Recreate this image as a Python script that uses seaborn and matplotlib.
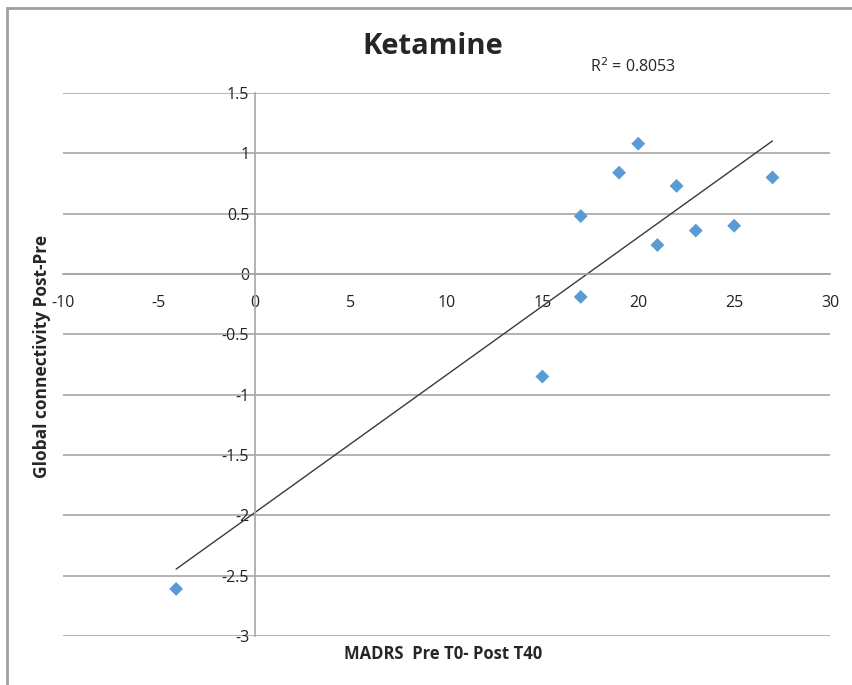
import numpy as np
import pandas as pd
import matplotlib
matplotlib.use("Agg")
import matplotlib.pyplot as plt
import seaborn as sns
from matplotlib.patches import Rectangle

# ======================================================
# DATA
# ======================================================

madrs_change = [-4.1, 15, 17, 17, 19, 20, 21, 22, 23, 25, 27]
connectivity_change = [-2.61, -0.85, -0.19, 0.48, 0.84, 1.08, 0.24, 0.73, 0.36, 0.40, 0.80]

x_ticks = [-10, -5, 0, 5, 10, 15, 20, 25, 30]
y_ticks = [-3, -2.5, -2, -1.5, -1, -0.5, 0, 0.5, 1, 1.5]
r2_text = "R$^2$ = 0.8053"

df = pd.DataFrame({"madrs": madrs_change, "conn": connectivity_change})

# ======================================================
# FIGURE
# ======================================================

sns.set_style("white")
plt.rcParams["font.family"] = ["Open Sans", "DejaVu Sans"]

fig = plt.figure(figsize=(8.53, 6.85), dpi=100)
ax = fig.add_axes([63 / 853, 49 / 685, 767 / 853, 543 / 685])

grid_color = "#a6a6a6"
for yv in y_ticks:
    ax.axhline(yv, color=grid_color, lw=1.2, zorder=0)

sns.regplot(
    data=df, x="madrs", y="conn", ax=ax, scatter=False, ci=None,
    line_kws={"color": "#3a3a3a", "lw": 1.0, "zorder": 2}
)

sns.scatterplot(
    data=df, x="madrs", y="conn", ax=ax, marker="D", s=50,
    color="#5b9bd5", edgecolor="none", zorder=3
)

ax.set_xlim(-10, 30)
ax.set_ylim(-3, 1.5)
ax.set_xticks(x_ticks)
ax.set_yticks(y_ticks)
ax.set_xticklabels([str(v) for v in x_ticks])
ax.set_yticklabels(["{:g}".format(v) for v in y_ticks])

for side in ["top", "right"]:
    ax.spines[side].set_visible(False)
ax.spines["left"].set_position(("data", 0))
ax.spines["bottom"].set_position(("data", 0))
ax.spines["left"].set_color(grid_color)
ax.spines["bottom"].set_color(grid_color)
ax.spines["left"].set_linewidth(1.2)
ax.spines["bottom"].set_linewidth(1.2)

ax.tick_params(axis="x", direction="out", length=5, width=1.2, color=grid_color,
               pad=10, labelsize=11.5, labelcolor="#222222")
ax.tick_params(axis="y", length=0, pad=4, labelsize=11.5, labelcolor="#222222")

ax.set_xlabel("")
ax.set_ylabel("")

fig.text(42 / 853, 1 - 356 / 685, "Global connectivity Post-Pre", rotation=90,
         ha="center", va="center", fontsize=12.5, fontweight="bold")
fig.text(443 / 853, 1 - 654 / 685, "MADRS  Pre T0- Post T40",
         ha="center", va="center", fontsize=12, fontweight="bold")
fig.text(433 / 853, 1 - 46 / 685, "Ketamine",
         ha="center", va="center", fontsize=21, fontweight="bold")
fig.text(633 / 853, 1 - 67 / 685, r2_text,
         ha="center", va="center", fontsize=11.5)

# chart area border (only top and left visible in the crop)
fig.patches.append(Rectangle((7 / 853, -0.1), 1.2, 1 - 8 / 685 + 0.1,
                             transform=fig.transFigure, fill=False,
                             edgecolor="#a0a0a0", lw=2))

fig.savefig("out.png", dpi=100)
plt.close(fig)
